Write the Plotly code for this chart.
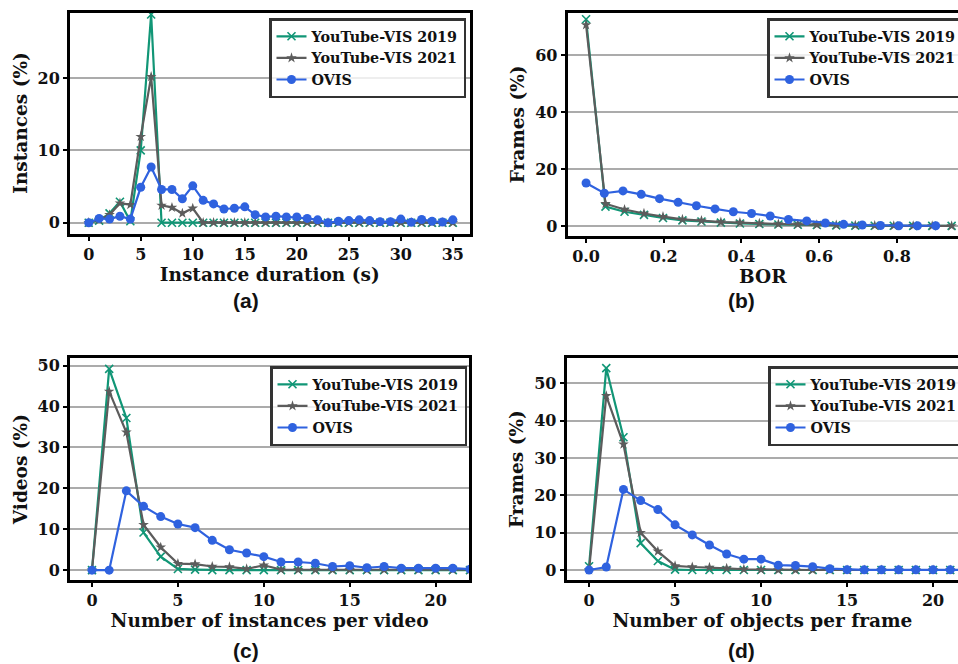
import plotly.graph_objects as go

# ---------------- data ----------------
series_names = ["YouTube-VIS 2019", "YouTube-VIS 2021", "OVIS"]

# (a) instance duration
dur_x = [0, 1, 2, 3, 4, 5, 6, 7, 8, 9, 10, 11, 12, 13, 14, 15, 16, 17, 18, 19, 20,
         21, 22, 23, 24, 25, 26, 27, 28, 29, 30, 31, 32, 33, 34, 35]
dur_yt19 = [0, 0.3, 1.3, 2.9, 0.2, 10.0, 28.8, 0, 0, 0, 0, 0, 0, 0, 0, 0, 0, 0, 0, 0, 0,
            0, 0, 0, 0, 0, 0, 0, 0, 0, 0, 0, 0, 0, 0, 0]
dur_yt21 = [0, 0.4, 1.1, 2.7, 2.5, 11.9, 20.2, 2.4, 2.1, 1.3, 2.0, 0, 0, 0, 0, 0, 0, 0, 0, 0, 0,
            0, 0, 0, 0, 0, 0, 0, 0, 0, 0, 0, 0, 0, 0, 0]
dur_ovis = [0, 0.6, 0.5, 0.9, 0.5, 4.9, 7.7, 4.6, 4.6, 3.3, 5.1, 3.1, 2.6, 1.9, 2.0, 2.2,
            1.1, 0.8, 0.9, 0.8, 0.8, 0.6, 0.4, 0.0, 0.2, 0.3, 0.4, 0.3, 0.15, 0.15, 0.5,
            0.05, 0.45, 0.2, 0.1, 0.4]

# (b) BOR
bor_x_yt = [0.0, 0.05, 0.099, 0.149, 0.198, 0.248, 0.297, 0.347, 0.396, 0.446, 0.495,
            0.545, 0.594, 0.644, 0.693, 0.743, 0.792, 0.842, 0.891, 0.941]
bor_x_ovis = [0.0, 0.047, 0.095, 0.142, 0.189, 0.237, 0.284, 0.332, 0.379, 0.426, 0.474,
              0.521, 0.568, 0.616, 0.663, 0.711, 0.758, 0.805, 0.853, 0.9]
bor_yt19 = [72.5, 6.8, 5.0, 3.9, 2.8, 2.0, 1.6, 1.2, 0.9, 0.7, 0.55, 0.45, 0.35, 0.25,
            0.15, 0.1, 0.08, 0.05, 0.05, 0.05]
bor_yt21 = [70.5, 7.8, 5.8, 4.4, 3.3, 2.3, 1.9, 1.4, 1.2, 0.9, 0.7, 0.6, 0.45, 0.35,
            0.25, 0.15, 0.1, 0.08, 0.05, 0.05]
bor_ovis = [15.1, 11.5, 12.3, 11.1, 9.6, 8.3, 7.1, 6.0, 5.0, 4.4, 3.5, 2.3, 1.8, 1.05,
            0.6, 0.35, 0.2, 0.1, 0.1, 0.1]

# (c) instances per video
inst_x = [0, 1, 2, 3, 4, 5, 6, 7, 8, 9, 10, 11, 12, 13, 14, 15, 16, 17, 18, 19, 20, 21, 22]
inst_yt19 = [0, 49.2, 37.2, 9.2, 3.3, 0.3, 0.15, 0, 0, 0, 0, 0, 0, 0, 0, 0, 0, 0, 0, 0, 0, 0, 0]
inst_yt21 = [0, 43.7, 33.7, 11.1, 5.6, 1.6, 1.5, 0.9, 0.8, 0.3, 1.2, 0.15, 0.1, 0.1, 0.1,
             0.1, 0.1, 0.1, 0.1, 0.1, 0.1, 0.1, 0.1]
inst_ovis = [0, 0, 19.4, 15.6, 13.1, 11.3, 10.4, 7.3, 5.0, 4.2, 3.3, 2.0, 2.0, 1.7, 0.9,
             1.1, 0.6, 0.9, 0.5, 0.5, 0.5, 0.5, 0.25]

# (d) objects per frame
obj_x = [0, 1, 2, 3, 4, 5, 6, 7, 8, 9, 10, 11, 12, 13, 14, 15, 16, 17, 18, 19, 20, 21, 22]
obj_yt19 = [1.0, 54.1, 35.6, 7.2, 2.4, 0.1, 0, 0, 0, 0, 0, 0, 0, 0, 0, 0, 0, 0, 0, 0, 0, 0, 0]
obj_yt21 = [0, 46.7, 33.7, 10.0, 5.0, 1.1, 0.8, 0.7, 0.45, 0.2, 0.1, 0, 0, 0, 0, 0, 0, 0,
            0, 0, 0, 0, 0]
obj_ovis = [0, 0.8, 21.6, 18.6, 16.2, 12.1, 9.4, 6.7, 4.3, 2.9, 2.9, 1.3, 1.2, 0.9, 0.35,
            0.1, 0.05, 0.05, 0.05, 0.05, 0.05, 0.05, 0.05]

x_titles = ["Instance duration (s)", "BOR", "Number of instances per video",
            "Number of objects per frame"]
y_titles = ["Instances (%)", "Frames (%)", "Videos (%)", "Frames (%)"]
panel_labels = ["(a)", "(b)", "(c)", "(d)"]

# ---------------- style ----------------
W, H = 958, 664
GREEN = "#119676"
GRAY = "#5c5c5c"
BLUE = "#2f62df"
SERIF = "DejaVu Serif"
SANS = "Liberation Sans"


def fx(px):
    return px / W


def fy(py):
    return 1 - py / H


fig = go.Figure()

panels = [
    dict(xs=[dur_x, dur_x, dur_x], ys=[dur_yt19, dur_yt21, dur_ovis],
         xdom=[70, 469.5], ydom=[12.5, 233.5], xr=[-1.8, 36.6], yr=[-1.49, 29.07],
         xtv=[0, 5, 10, 15, 20, 25, 30, 35], ytv=[0, 10, 20], right=False,
         leg=(269, 18), lab=(246, 300)),
    dict(xs=[bor_x_yt, bor_x_yt, bor_x_ovis], ys=[bor_yt19, bor_yt21, bor_ovis],
         xdom=[567.7, 958], ydom=[12.7, 236], xr=[-0.0473, 0.9574], yr=[-3.5, 74.8],
         xtv=[0, 0.2, 0.4, 0.6, 0.8], ytv=[0, 20, 40, 60], right=True,
         leg=(767, 18), lab=(741, 300)),
    dict(xs=[inst_x, inst_x, inst_x], ys=[inst_yt19, inst_yt21, inst_ovis],
         xdom=[70, 469.3], ydom=[358.3, 580], xr=[-1.28, 21.96], yr=[-2.4, 51.8],
         xtv=[0, 5, 10, 15, 20], ytv=[0, 10, 20, 30, 40, 50], right=False,
         leg=(270, 366), lab=(246, 650)),
    dict(xs=[obj_x, obj_x, obj_x], ys=[obj_yt19, obj_yt21, obj_ovis],
         xdom=[566.7, 958], ydom=[358.3, 580], xr=[-1.3, 21.45], yr=[-2.68, 56.75],
         xtv=[0, 5, 10, 15, 20], ytv=[0, 10, 20, 30, 40, 50], right=True,
         leg=(768, 366), lab=(741, 650)),
]

tick_font = dict(family=SERIF, size=16, color="#111111", weight="bold")
title_font = dict(family=SERIF, size=18.5, color="#111111", weight="bold")
leg_font = dict(family=SERIF, size=14.3, color="#111111", weight="bold")

annotations = []
for i, p in enumerate(panels):
    n = i + 1
    xa = "x" if n == 1 else f"x{n}"
    ya = "y" if n == 1 else f"y{n}"
    lg = "legend" if n == 1 else f"legend{n}"
    styles = [
        dict(color=GREEN, symbol="x-thin", size=8, line=dict(color=GREEN, width=1.6)),
        dict(color=GRAY, symbol="star", size=8, line=dict(width=0)),
        dict(color=BLUE, symbol="circle", size=9, line=dict(width=0)),
    ]
    lcolors = [GREEN, GRAY, BLUE]
    for k in range(3):
        fig.add_trace(go.Scatter(
            x=p["xs"][k], y=p["ys"][k], mode="lines+markers", name=series_names[k],
            line=dict(color=lcolors[k], width=2.2), marker=styles[k],
            xaxis=xa, yaxis=ya, legend=lg, showlegend=True,
        ))

    axis_x = dict(
        domain=[fx(p["xdom"][0]), fx(p["xdom"][1])], range=p["xr"], anchor=ya,
        showline=True, linewidth=3, linecolor="black", mirror=True,
        ticks="outside", ticklen=4, tickwidth=1.5, tickcolor="black",
        tickvals=p["xtv"], tickfont=tick_font, showgrid=False, zeroline=False,
        title=dict(text=x_titles[i], font=title_font, standoff=0),
    )
    if i == 1:
        axis_x["tickformat"] = ".1f"
    axis_y = dict(
        domain=[fy(p["ydom"][1]), fy(p["ydom"][0])], range=p["yr"], anchor=xa,
        showline=True, linewidth=3, linecolor="black", mirror=not p["right"],
        ticks="outside", ticklen=4, tickwidth=1.5, tickcolor="black",
        tickvals=p["ytv"], tickfont=tick_font, showgrid=True, gridcolor="#ababab",
        gridwidth=1.6, zeroline=False,
        title=dict(text=y_titles[i], font=title_font, standoff=6),
    )
    key_x = "xaxis" if n == 1 else f"xaxis{n}"
    key_y = "yaxis" if n == 1 else f"yaxis{n}"
    fig.update_layout({key_x: axis_x, key_y: axis_y})

    fig.update_layout({lg: dict(
        x=fx(p["leg"][0]), y=fy(p["leg"][1]), xanchor="left", yanchor="top",
        bgcolor="rgba(255,255,255,0.8)", bordercolor="#333333", borderwidth=2.5,
        font=leg_font, tracegroupgap=0, itemwidth=30,
    )})

    annotations.append(dict(
        text=f"<b>{panel_labels[i]}</b>", x=fx(p["lab"][0]), y=fy(p["lab"][1]),
        xref="paper", yref="paper", xanchor="center", yanchor="middle",
        showarrow=False, font=dict(family=SANS, size=21, color="#111111"),
    ))

fig.update_layout(
    width=W, height=H, autosize=False,
    margin=dict(l=0, r=0, t=0, b=0, pad=0, autoexpand=False),
    paper_bgcolor="white", plot_bgcolor="white",
    annotations=annotations,
)

fig.write_html("out.html")
